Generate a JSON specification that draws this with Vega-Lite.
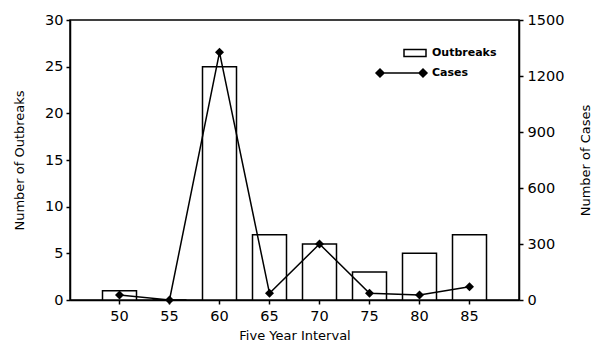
{
  "$schema": "https://vega.github.io/schema/vega-lite/v6.json",
  "autosize": {"type": "none"},
  "padding": {"left": 70, "top": 20, "right": 75, "bottom": 46},
  "width": 449,
  "height": 280,
  "background": "white",
  "config": {
    "font": "DejaVu Sans",
    "view": {"stroke": "black", "strokeWidth": 1.5},
    "axis": {
      "domainColor": "black", "domainWidth": 1.5, "tickColor": "black", "tickWidth": 1.5,
      "labelColor": "black", "titleColor": "black", "labelFont": "DejaVu Sans", "titleFont": "DejaVu Sans",
      "labelFontSize": 14.5, "titleFontSize": 13, "titleFontWeight": "normal", "grid": false
    },
    "legend": {
      "title": null, "orient": "none", "legendX": 346, "legendY": 27,
      "symbolSize": 100, "symbolStrokeColor": "black", "symbolStrokeWidth": 1.5,
      "labelFontSize": 11, "labelFontWeight": "bold", "labelFont": "DejaVu Sans",
      "labelColor": "black", "rowPadding": 6, "labelOffset": 4
    }
  },
  "data": {"values": [
    {"interval": "50", "outbreaks": 1, "cases": 27},
    {"interval": "55", "outbreaks": 0, "cases": 0},
    {"interval": "60", "outbreaks": 25, "cases": 1327},
    {"interval": "65", "outbreaks": 7, "cases": 36},
    {"interval": "70", "outbreaks": 6, "cases": 300},
    {"interval": "75", "outbreaks": 3, "cases": 36},
    {"interval": "80", "outbreaks": 5, "cases": 27},
    {"interval": "85", "outbreaks": 7, "cases": 71}
  ]},
  "encoding": {
    "x": {
      "field": "interval", "type": "ordinal",
      "scale": {"paddingInner": 0.32, "paddingOuter": 0.65},
      "axis": {"title": "Five Year Interval", "labelAngle": 0, "tickSize": 4, "labelPadding": 5, "titlePadding": 7}
    }
  },
  "layer": [
    {
      "mark": {"type": "bar", "fill": "white", "stroke": "black", "strokeWidth": 1.5},
      "encoding": {
        "y": {
          "field": "outbreaks", "type": "quantitative",
          "scale": {"domain": [0, 30], "nice": false},
          "axis": {"title": "Number of Outbreaks", "values": [0, 5, 10, 15, 20, 25, 30], "tickSize": 4, "labelPadding": 3, "titlePadding": 18}
        }
      }
    },
    {
      "layer": [
        {
          "mark": {"type": "line", "color": "black", "strokeWidth": 1.5},
          "encoding": {}
        },
        {
          "mark": {"type": "point", "filled": true, "color": "black", "shape": "diamond", "size": 80, "opacity": 1},
          "encoding": {}
        },
        {
          "transform": [{"filter": "datum.cases < 0"}],
          "mark": {"type": "point", "strokeWidth": 1.5, "opacity": 1},
          "encoding": {
            "shape": {
              "datum": "Cases",
              "scale": {"domain": ["Outbreaks", "Cases"], "range": ["M-3.6,-0.7H0.8V0.7H-3.6Z", "M-9.2,0L-8.4,-0.8L-7.6,0L-8.4,0.8Z M-7.6,0H-0.6 M-0.6,0L0.2,-0.8L1,0L0.2,0.8Z"]}
            },
            "fill": {
              "datum": "Cases",
              "scale": {"domain": ["Outbreaks", "Cases"], "range": ["white", "black"]}
            },
            "stroke": {
              "datum": "Cases",
              "scale": {"domain": ["Outbreaks", "Cases"], "range": ["black", "black"]}
            }
          }
        }
      ],
      "encoding": {
        "y": {
          "field": "cases", "type": "quantitative",
          "scale": {"domain": [0, 1500], "nice": false},
          "axis": {"title": "Number of Cases", "orient": "right", "format": "d", "titleAngle": 270, "values": [0, 300, 600, 900, 1200, 1500], "tickSize": 4, "labelPadding": 4, "titlePadding": 29}
        }
      }
    }
  ],
  "resolve": {"scale": {"y": "independent"}}
}
